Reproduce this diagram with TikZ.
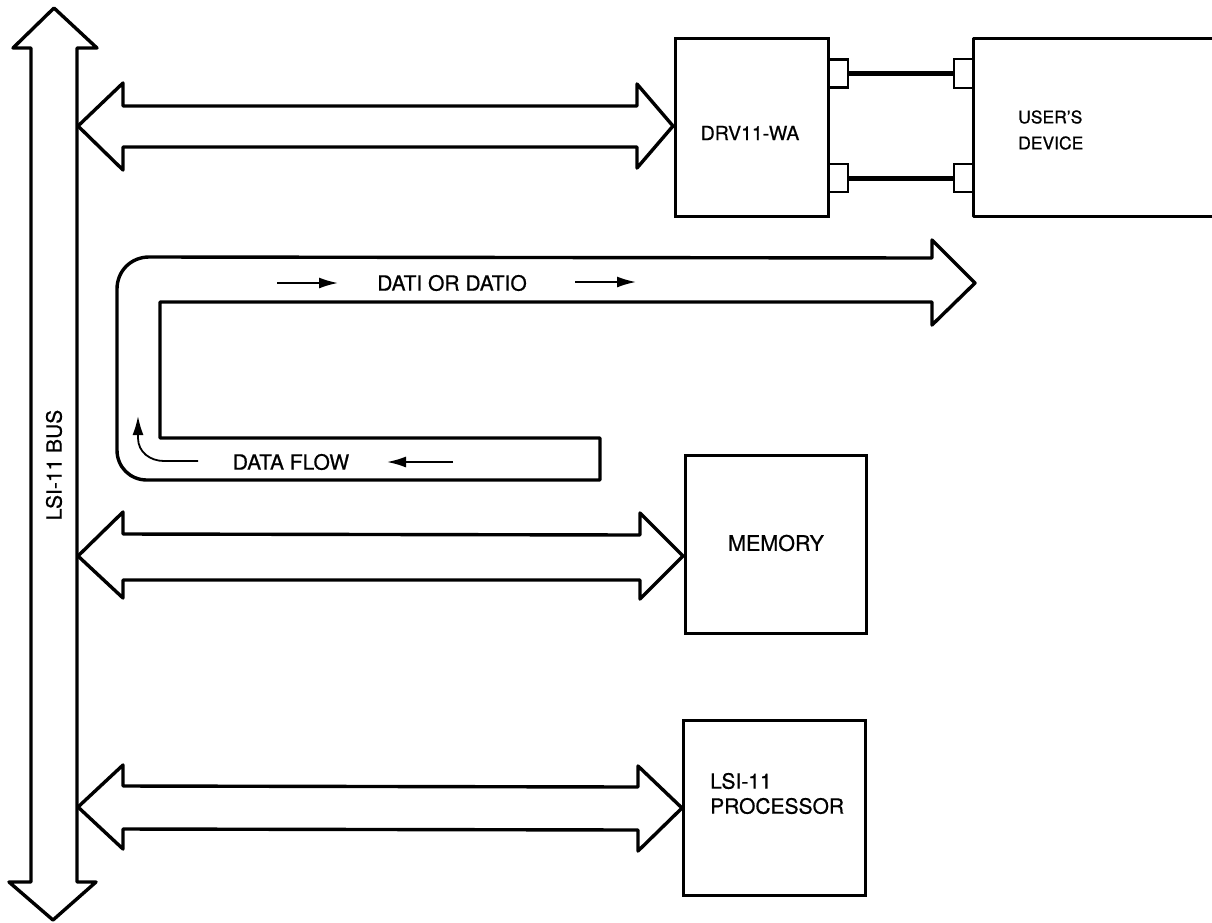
\documentclass[tikz,border=0pt]{standalone}
\usepackage{fontspec}
\setmainfont{TeX Gyre Heros}[FakeBold=0.7]
\usetikzlibrary{arrows.meta,calc}
\begin{document}
\begin{tikzpicture}[x=1pt,y=-1pt,
  outl/.style={line width=3.4pt,line join=round},
  box/.style={draw,line width=3pt,rectangle,inner sep=0pt},
  pin/.style={draw,line width=2.4pt,rectangle,inner sep=0pt,minimum width=20pt,minimum height=28pt},
  cable/.style={line width=5pt},
  lbl/.style={inner sep=0pt,font=\fontsize{21}{25}\selectfont},
  flow/.style={line width=1.8pt,-{Latex[length=19pt,width=11pt]}}]
\useasboundingbox (0,0) rectangle (1212,922);

% LSI-11 bus (two-headed vertical arrow)
\draw[outl] (54,8) -- (13,48) -- (31,48) -- (31,882) -- (9,882) -- (53,920)
  -- (96,882) -- (77,882) -- (77,48) -- (97,48) -- cycle;
\node[lbl,rotate=90] (buslbl) at (54,465) {LSI-11 BUS};

% boxes
\node[box,minimum width=153pt,minimum height=178pt] (drv) at (751.5,127) {};
\node[lbl,font=\fontsize{19.5}{24}\selectfont] (drvtxt) at (750,133) {DRV11-WA};
\node[box,minimum width=181pt,minimum height=178pt] (mem) at (775.5,544) {};
\node[lbl,font=\fontsize{21.5}{25}\selectfont] (memtxt) at (776,543) {MEMORY};
\node[box,minimum width=182pt,minimum height=175pt] (cpu) at (774,807.5) {};
\node[lbl,align=left,anchor=west] (cputxt) at (710,793.5) {LSI-11\\PROCESSOR};

% user's device (right edge beyond the picture)
\coordinate (uTL) at (973,38);
\coordinate (uBL) at (973,216);
\draw[line width=3pt,line join=round] (1214,38) -- (uTL) -- (uBL) -- (1214,216);
\node[lbl,align=left,anchor=west,font=\fontsize{17.5}{26}\selectfont] (usertxt) at (1018,130) {USER'S\\DEVICE};

% connectors
\node[pin] (p1) at (838,73.5) {};
\node[pin] (p2) at (838,178) {};
\node[pin,minimum width=19pt,minimum height=29pt] (q1) at (963.5,73.5) {};
\node[pin,minimum width=19pt,minimum height=28pt] (q2) at (963.5,178) {};
\draw[cable] (p1.east) -- (q1.west);
\draw[cable] (p2.east) -- (q2.west);

% bus to DRV11-WA
\draw[outl] (78,126) -- (123,83) -- (123,106) -- (637,106) -- (637,84) -- (673,126)
  -- (637,168) -- (637,147) -- (123,147) -- (123,170) -- cycle;
% bus to memory
\draw[outl] (78,556) -- (123,512) -- (123,534) -- (640,535) -- (640,513) -- (683,556)
  -- (640,599) -- (640,580) -- (123,580) -- (123,598) -- cycle;
% bus to processor
\draw[outl] (78,807) -- (123,765) -- (123,786) -- (638,787) -- (638,766) -- (682,808)
  -- (638,851) -- (638,830) -- (123,829) -- (123,849) -- cycle;

% data flow path
\draw[outl] (600,438) -- (160,438) -- (160,302) -- (932,302) -- (932,325) -- (975,283)
  -- (932,240) -- (932,258) -- (149,257) .. controls (131,257) and (117,271) .. (117,289)
  -- (117,450) .. controls (117,467) and (130,480) .. (147,480) -- (600,480) -- cycle;
\node[lbl] (dati) at (452,283) {DATI OR DATIO};
\node[lbl] (dflow) at (291,462) {DATA FLOW};
\coordinate (a1s) at (277,283); \coordinate (a1e) at (338,283);
\coordinate (a2s) at (575,282); \coordinate (a2e) at (636,282);
\coordinate (a3s) at (453,462); \coordinate (a3e) at (387,462);
\coordinate (a4s) at (198,461); \coordinate (a4e) at (138,416);
\draw[flow] (a1s) -- (a1e);
\draw[flow] (a2s) -- (a2e);
\draw[flow] (a3s) -- (a3e);
\draw[flow] (a4s) -- (164,461) .. controls (150,461) and (138,452) .. (138,438) -- (a4e);
\end{tikzpicture}
\end{document}
